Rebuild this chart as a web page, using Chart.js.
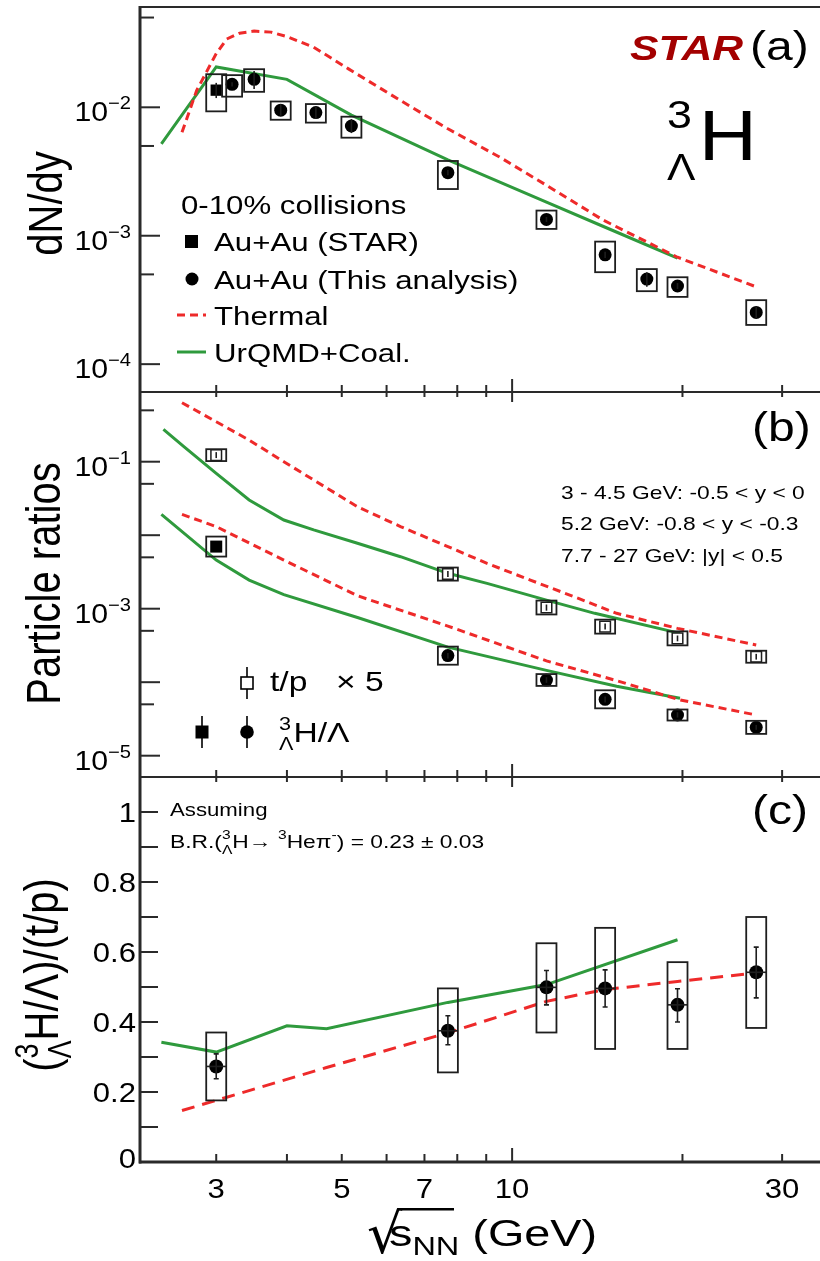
<!DOCTYPE html>
<html>
<head>
<meta charset="utf-8">
<script src="https://cdn.jsdelivr.net/npm/chart.js@4.4.1/dist/chart.umd.min.js"></script>
<style>
html,body{margin:0;padding:0;background:#fff;}
#wrap{width:820px;height:1261px;position:relative;}
</style>
</head>
<body>
<div id="wrap"><canvas id="c" width="820" height="1261"></canvas></div>
<script>
// ================= DATA =================
// x axis (sqrt(s_NN), GeV)
const xTickVals   = [3, 4, 5, 6, 7, 8, 9, 10, 20, 30];
const xTickLabels = ['3', '', '5', '', '7', '', '', '10', '', '30'];

// ---- panel (a): dN/dy ----
const aTickVals = [1e-4, 1e-3, 1e-2];
const aTickExp  = ['\u22124', '\u22123', '\u22122'];
const aMinorVals = [5e-4, 5e-3, 5e-2];

const aStarE      = [3.0];
const aStarVal    = [0.0136];
const aStarStatLo = [0.0118];
const aStarStatHi = [0.0155];
const aStarSysLo  = [0.0093];
const aStarSysHi  = [0.0181];

const aE      = [3.2, 3.5, 3.9, 4.5, 5.2, 7.7, 11.5, 14.6, 17.3, 19.6, 27];
const aVal    = [0.0151, 0.0165, 0.0095, 0.0091, 0.00715, 0.0031, 0.00134, 0.00071, 0.00046, 0.000406, 0.000253];
const aStatLo = [0.0145, 0.0139, 0.0086, 0.0081, 0.0063, 0.00296, 0.00128, 0.00067, 0.00040, 0.000385, 0.000228];
const aStatHi = [0.0157, 0.0192, 0.0106, 0.0102, 0.0081, 0.00325, 0.00140, 0.00075, 0.00052, 0.000428, 0.000280];
const aSysLo  = [0.0121, 0.0132, 0.0080, 0.0076, 0.0058, 0.00231, 0.00113, 0.00052, 0.00037, 0.000334, 0.000202];
const aSysHi  = [0.0178, 0.0198, 0.0111, 0.0106, 0.00845, 0.00382, 0.00157, 0.00090, 0.00055, 0.000475, 0.000315];

const aThermE = [2.61, 2.77, 3.0, 3.13, 3.3, 3.5, 3.75, 4.0, 4.46, 5.13, 6.35, 7.7, 9.5, 11.5, 14.5, 19.6, 27];
const aThermV = [0.0064, 0.0135, 0.0262, 0.0340, 0.0378, 0.0392, 0.0385, 0.0355, 0.0294, 0.0200, 0.0113, 0.0068, 0.0041, 0.00247, 0.00132, 0.00068, 0.00040];
const aUrqE   = [2.4, 3.0, 4.0, 5.2, 7.7, 11.5, 14.5, 19.6];
const aUrqV   = [0.0052, 0.0206, 0.0165, 0.0087, 0.0039, 0.00183, 0.00118, 0.00067];

// ---- panel (b): particle ratios ----
const bTickVals = [1e-5, 1e-3, 1e-1];
const bTickExp  = ['\u22125', '\u22123', '\u22121'];
const bMajorVals = [1e-5, 1e-4, 1e-3, 1e-2, 1e-1];
const bMinorVals = [5e-5, 5e-4, 5e-3, 5e-2, 5e-1];

const bE        = [3.0, 7.7, 11.5, 14.6, 19.6, 27];
const bTP       = [0.123, 0.00296, 0.00104, 0.00057, 0.000395, 0.000222];   // t/p x 5
const bTPStatLo = [0.112, 0.00270, 0.00094, 0.00052, 0.000360, 0.000203];
const bTPStatHi = [0.135, 0.00325, 0.00114, 0.00063, 0.000432, 0.000243];
const bTPSysLo  = [0.102, 0.00241, 0.000835, 0.000458, 0.000317, 0.000184];
const bTPSysHi  = [0.148, 0.00363, 0.00129, 0.00071, 0.000492, 0.000268];

const bHLStarE     = [3.0];
const bHLStar      = [0.0070];
const bHLStarSysLo = [0.00512];
const bHLStarSysHi = [0.00958];
const bHLE      = [7.7, 11.5, 14.6, 19.6, 27];
const bHL       = [2.3e-4, 1.07e-4, 5.85e-5, 3.58e-5, 2.43e-5];
const bHLStatLo = [2.1e-4, 0.98e-4, 5.3e-5, 3.3e-5, 2.25e-5];
const bHLStatHi = [2.5e-4, 1.17e-4, 6.4e-5, 3.9e-5, 2.62e-5];
const bHLSysLo  = [1.73e-4, 8.9e-5, 4.41e-5, 3.01e-5, 1.98e-5];
const bHLSysHi  = [3.05e-4, 1.29e-4, 7.76e-5, 4.25e-5, 2.98e-5];

const bThermTPE = [2.61, 3.0, 3.43, 3.95, 4.46, 5.33, 6.35, 7.7, 9.03, 10.77, 12.85, 15.3, 19.6, 27];
const bThermTPV = [0.635, 0.35, 0.197, 0.100, 0.0564, 0.0244, 0.0131, 0.0070, 0.00414, 0.00245, 0.00146, 0.000865, 0.00054, 0.00032];
const bUrqTPE   = [2.42, 2.63, 3.0, 3.43, 3.95, 4.46, 5.33, 6.35, 7.7, 9.03, 11.5, 14.0, 19.8];
const bUrqTPV   = [0.276, 0.160, 0.0695, 0.0301, 0.0161, 0.0118, 0.00776, 0.0051, 0.00303, 0.00221, 0.00131, 0.000865, 0.000462];
const bThermHLE = [2.61, 3.0, 3.95, 5.33, 7.7, 11.5, 15.3, 19.8, 27];
const bThermHLV = [0.0192, 0.0131, 0.00459, 0.00150, 0.00058, 0.000195, 0.000105, 5.73e-5, 3.58e-5];
const bUrqHLE   = [2.4, 3.0, 3.43, 3.95, 5.33, 7.7, 11.5, 15.3, 19.8];
const bUrqHLV   = [0.0192, 0.00459, 0.00245, 0.00155, 0.00076, 0.00030, 0.000145, 8.8e-5, 6.04e-5];

// ---- panel (c): (3LH/L)/(t/p) ----
const cTickVals   = [0, 0.2, 0.4, 0.6, 0.8, 1];
const cTickLabels = ['0', '0.2', '0.4', '0.6', '0.8', '1'];
const cMinorVals  = [0.1, 0.3, 0.5, 0.7, 0.9];

const cE      = [3.0, 7.7, 11.5, 14.6, 19.6, 27];
const cVal    = [0.273, 0.375, 0.499, 0.496, 0.449, 0.542];
const cStatLo = [0.238, 0.335, 0.449, 0.443, 0.400, 0.469];
const cStatHi = [0.309, 0.418, 0.547, 0.549, 0.495, 0.614];
const cSysLo  = [0.176, 0.256, 0.370, 0.323, 0.323, 0.383];
const cSysHi  = [0.370, 0.496, 0.625, 0.669, 0.571, 0.700];
const cThermE = [2.61, 3.1, 4.7, 7.7, 11.5, 14.5, 19.6, 27];
const cThermV = [0.147, 0.183, 0.270, 0.369, 0.459, 0.492, 0.516, 0.540];
const cUrqE   = [2.4, 3.0, 4.0, 4.7, 7.7, 11.5, 19.6];
const cUrqV   = [0.342, 0.314, 0.389, 0.381, 0.456, 0.507, 0.635];

// ================= STYLE =================
const GREEN = '#2f9a3d';
const RED   = '#ee2a2a';
const INK   = '#000000';
const AXIS  = '#2a2a2a';
const STAR_RED = '#a30000';
const FONT  = '"Liberation Sans", Arial, Helvetica, sans-serif';
const SX = 1.2;          // horizontal stretch of the text
const BOX_HW = 10;       // half-width of systematic boxes, px

function pts(xs, ys) { return xs.map((x, i) => ({x: x, y: ys[i]})); }

function fontStr(r) {
  return [r.style || '', r.weight || '', r.size + 'px', r.family || FONT].filter(Boolean).join(' ');
}
// draw a sequence of text runs (for super/subscripts)
function drawRuns(c, runs, x, y, opts) {
  opts = opts || {};
  const align = opts.align || 'left', rot = opts.rot || 0;
  const sx = opts.sx || SX, color = opts.color || INK;
  c.save();
  c.translate(x, y); c.scale(sx, 1); if (rot) c.rotate(rot);
  c.textBaseline = 'alphabetic'; c.textAlign = 'left';
  let pos = 0, prevStart = 0, prevW = 0;
  const lay = [];
  for (const r of runs) {
    c.font = fontStr(r);
    const w = c.measureText(r.t).width;
    let start;
    if (r.over) { start = prevStart; pos = Math.max(prevStart + prevW, start + w); }
    else { start = pos; pos = start + w; }
    lay.push({r: r, start: start, w: w});
    prevStart = start; prevW = w;
  }
  const total = pos;
  const off = align === 'left' ? 0 : (align === 'right' ? -total : -total / 2);
  for (const L of lay) {
    c.font = fontStr(L.r);
    c.fillStyle = L.r.color || color;
    c.fillText(L.r.t, off + L.start + (L.r.dx || 0), L.r.dy || 0);
  }
  c.restore();
  return total * sx;
}
function txt(c, s, x, y, size, opts) {
  opts = opts || {};
  return drawRuns(c, [{t: s, size: size, weight: opts.weight, style: opts.style, color: opts.color}], x, y, opts);
}

// ================= PLUGIN: frame, ticks, error bars, boxes, texts =================
const decor = {
  id: 'decor',
  afterDatasetsDraw(chart) {
    const c = chart.ctx, X = chart.scales.x;
    const ya = chart.scales.ya, yb = chart.scales.yb, yc = chart.scales.yc;
    c.save();
    c.strokeStyle = '#1e1e1e';
    function box(s, xv, lo, hi) {
      const px = X.getPixelForValue(xv);
      const y1 = s.getPixelForValue(hi), y2 = s.getPixelForValue(lo);
      c.lineWidth = 1.8;
      c.strokeRect(px - BOX_HW, y1, 2 * BOX_HW, y2 - y1);
    }
    function err(s, xv, lo, hi, cap) {
      const px = X.getPixelForValue(xv);
      const y1 = s.getPixelForValue(hi), y2 = s.getPixelForValue(lo);
      c.lineWidth = 1.6;
      c.beginPath(); c.moveTo(px, y1); c.lineTo(px, y2);
      if (cap) { c.moveTo(px - cap, y1); c.lineTo(px + cap, y1); c.moveTo(px - cap, y2); c.lineTo(px + cap, y2); }
      c.stroke();
    }
    // panel a
    aStarE.forEach((e, i) => { box(ya, e, aStarSysLo[i], aStarSysHi[i]); err(ya, e, aStarStatLo[i], aStarStatHi[i]); });
    aE.forEach((e, i) => { box(ya, e, aSysLo[i], aSysHi[i]); err(ya, e, aStatLo[i], aStatHi[i]); });
    // panel b
    bE.forEach((e, i) => { box(yb, e, bTPSysLo[i], bTPSysHi[i]); err(yb, e, bTPStatLo[i], bTPStatHi[i]); });
    bHLStarE.forEach((e, i) => { box(yb, e, bHLStarSysLo[i], bHLStarSysHi[i]); });
    bHLE.forEach((e, i) => { box(yb, e, bHLSysLo[i], bHLSysHi[i]); err(yb, e, bHLStatLo[i], bHLStatHi[i]); });
    // panel c
    cE.forEach((e, i) => {
      box(yc, e, cSysLo[i], cSysHi[i]);
      err(yc, e, cStatLo[i], cStatHi[i], 2.5);
      const px = X.getPixelForValue(e), py = yc.getPixelForValue(cVal[i]);
      c.lineWidth = 1.6; c.beginPath(); c.moveTo(px - BOX_HW, py); c.lineTo(px + BOX_HW, py); c.stroke();
    });
    c.restore();
  },
  afterDraw(chart) {
    const c = chart.ctx, X = chart.scales.x, A = chart.chartArea;
    const ya = chart.scales.ya, yb = chart.scales.yb, yc = chart.scales.yc;
    const L = A.left, R = A.right;
    c.save();
    c.strokeStyle = AXIS; c.fillStyle = INK;
    // ---- frame lines ----
    c.lineWidth = 2; c.beginPath(); c.moveTo(L, ya.top); c.lineTo(R, ya.top); c.stroke();
    c.lineWidth = 2; c.beginPath(); c.moveTo(L, ya.bottom); c.lineTo(R, ya.bottom); c.stroke();
    c.beginPath(); c.moveTo(L, yb.bottom); c.lineTo(R, yb.bottom); c.stroke();
    c.lineWidth = 3; c.beginPath(); c.moveTo(L - 1, yc.bottom); c.lineTo(R, yc.bottom); c.stroke();
    c.beginPath(); c.moveTo(L, ya.top - 1); c.lineTo(L, yc.bottom + 1.5); c.stroke();

    // ---- y ticks (inward) ----
    c.lineWidth = 2;
    function yt(s, v, len) { const py = s.getPixelForValue(v); c.beginPath(); c.moveTo(L, py); c.lineTo(L + len, py); c.stroke(); }
    aTickVals.forEach(v => yt(ya, v, 20)); aMinorVals.forEach(v => yt(ya, v, 14));
    bMajorVals.forEach(v => yt(yb, v, 20)); bMinorVals.forEach(v => yt(yb, v, 14));
    cTickVals.forEach(v => { if (v > 0) yt(yc, v, 18); }); cMinorVals.forEach(v => yt(yc, v, 18));

    // ---- x ticks at bottom of each panel (up) and top of b, c (down) ----
    function xt(yBase, dir, v, len) { const px = X.getPixelForValue(v); c.beginPath(); c.moveTo(px, yBase); c.lineTo(px, yBase + dir * len); c.stroke(); }
    xTickVals.forEach(v => {
      const big = (v === 10);
      xt(ya.bottom, -1, v, big ? 13 : 7);
      xt(yb.top, 1, v, big ? 10 : 5);
      xt(yb.bottom, -1, v, big ? 13 : 7);
      xt(yc.top, 1, v, big ? 10 : 5);
      xt(yc.bottom, -1, v, big ? 14 : 8);
    });

    // ---- y tick labels ----
    function logLab(s, v, ex) {
      const py = s.getPixelForValue(v);
      drawRuns(c, [{t: '10', size: 27}, {t: ex, size: 18, dy: -12}], 131, py + 14, {align: 'right', sx: 1.12});
    }
    aTickVals.forEach((v, i) => logLab(ya, v, aTickExp[i]));
    bTickVals.forEach((v, i) => logLab(yb, v, bTickExp[i]));
    cTickVals.forEach((v, i) => {
      const py = yc.getPixelForValue(v);
      txt(c, cTickLabels[i], 136, py + (v === 0 ? 6 : 10), 27, {align: 'right', sx: 1.15});
    });
    // ---- x tick labels ----
    xTickVals.forEach((v, i) => {
      if (!xTickLabels[i]) return;
      txt(c, xTickLabels[i], X.getPixelForValue(v), 1198, 27, {align: 'center', sx: 1.15});
    });

    // ---- axis titles ----
    const ROT = -Math.PI / 2;
    txt(c, 'dN/dy', 62, (ya.top + ya.bottom) / 2 + 4, 40, {align: 'center', rot: ROT});
    txt(c, 'Particle ratios', 60, (yb.top + yb.bottom) / 2 - 1, 40, {align: 'center', rot: ROT});
    drawRuns(c, [{t: '(', size: 40}, {t: '3', size: 27, dy: -17}, {t: '\u039B', size: 27, dy: 11, over: true},
                 {t: 'H/\u039B)/(t/p)', size: 40}], 58, 975, {align: 'center', rot: ROT});
    // x title with radical
    (function () {
      const top = 1208, bottom = 1255, left = 368;
      c.save();
      c.font = '100px "DejaVu Sans"';
      const m = c.measureText('\u221A');
      const h = m.actualBoundingBoxAscent + m.actualBoundingBoxDescent;
      const k = (bottom - top) / h;
      const fs = 100 * k;
      c.font = fs + 'px "DejaVu Sans"';
      const m2 = c.measureText('\u221A');
      const bx = left + m2.actualBoundingBoxLeft, by = top + m2.actualBoundingBoxAscent;
      c.fillStyle = INK; c.textAlign = 'left'; c.textBaseline = 'alphabetic';
      c.fillText('\u221A', bx, by);
      const rx = bx + m2.actualBoundingBoxRight;
      c.strokeStyle = INK; c.lineWidth = 2.6;
      c.beginPath(); c.moveTo(rx - 2, top + 1.3); c.lineTo(454, top + 1.3); c.stroke();
      c.restore();
      drawRuns(c, [{t: 's', size: 36}, {t: 'NN', size: 25, dy: 9}, {t: ' (GeV)', size: 36}], 389, 1246, {sx: 1.3});
    })();

    // ---- panel (a) texts ----
    txt(c, 'STAR', 630, 60, 35, {weight: 'bold', style: 'italic', color: STAR_RED, sx: 1.22});
    txt(c, '(a)', 750, 60, 40);
    drawRuns(c, [{t: '3', size: 39, dy: -32}, {t: '\u039B', size: 37, dy: 20, over: true}, {t: 'H', size: 70, dx: 3}], 667, 160, {sx: 1.15});
    // legend (a)
    txt(c, '0-10% collisions', 181, 214, 26);
    txt(c, 'Au+Au (STAR)', 214, 251, 26);
    txt(c, 'Au+Au (This analysis)', 214, 289, 26);
    txt(c, 'Thermal', 214, 325, 26);
    txt(c, 'UrQMD+Coal.', 214, 362, 26);
    c.fillStyle = INK;
    c.fillRect(185, 235, 13, 13);
    c.beginPath(); c.arc(192, 279, 6.5, 0, Math.PI * 2); c.fill();
    c.lineWidth = 3;
    c.strokeStyle = RED; c.setLineDash([8, 5]);
    c.beginPath(); c.moveTo(177, 315); c.lineTo(206, 315); c.stroke();
    c.setLineDash([]);
    c.strokeStyle = GREEN;
    c.beginPath(); c.moveTo(177, 352); c.lineTo(206, 352); c.stroke();

    // ---- panel (b) texts ----
    txt(c, '(b)', 752, 441, 40);
    txt(c, '3 - 4.5 GeV: -0.5 < y < 0', 561, 499, 19);
    txt(c, '5.2 GeV: -0.8 < y < -0.3', 561, 530, 19);
    txt(c, '7.7 - 27 GeV: |y| < 0.5', 561, 562, 19);
    // legend (b)
    c.strokeStyle = INK; c.lineWidth = 1.6;
    c.beginPath(); c.moveTo(247, 667); c.lineTo(247, 699); c.stroke();
    c.fillStyle = '#fff'; c.fillRect(241, 677, 12, 12);
    c.strokeRect(241, 677, 12, 12);
    c.beginPath(); c.moveTo(202, 716); c.lineTo(202, 748); c.moveTo(247, 716); c.lineTo(247, 748); c.stroke();
    c.fillStyle = INK;
    c.fillRect(195.5, 725.5, 13, 13);
    c.beginPath(); c.arc(247, 732, 6.8, 0, Math.PI * 2); c.fill();
    txt(c, 't/p', 270, 691, 28);
    txt(c, '\u00D7 5', 336, 691, 28);
    drawRuns(c, [{t: '3', size: 18, dy: -12}, {t: '\u039B', size: 18, dy: 8, over: true}, {t: 'H/\u039B', size: 28}], 279, 742);

    // ---- panel (c) texts ----
    txt(c, '(c)', 752, 824, 40);
    txt(c, 'Assuming', 170, 816, 18.5);
    drawRuns(c, [{t: 'B.R.(', size: 19}, {t: '3', size: 13, dy: -9}, {t: '\u039B', size: 13, dy: 6, over: true},
                 {t: 'H\u2192 ', size: 19}, {t: '3', size: 13, dy: -9}, {t: 'He\u03C0', size: 19}, {t: '-', size: 13, dy: -9},
                 {t: ') = 0.23 \u00B1 0.03', size: 19}], 170, 848);
    c.restore();
  }
};

// ================= CHART =================
const ctx = document.getElementById('c').getContext('2d');
const dotStyle = {pointStyle: 'circle', pointRadius: 6.5, pointHoverRadius: 6.5, backgroundColor: INK, borderColor: INK, borderWidth: 0, showLine: false};
const lineStyle = (col, dash) => ({showLine: true, borderColor: col, borderWidth: 3, borderDash: dash || [], pointRadius: 0, pointHoverRadius: 0, fill: false, tension: 0});
const hiddenAxis = {ticks: {display: false}, grid: {display: false, drawTicks: false, tickLength: 0}, border: {display: false}, title: {display: false}};

new Chart(ctx, {
  type: 'scatter',
  data: {
    datasets: [
      Object.assign({label: 'Au+Au (STAR)', yAxisID: 'ya', data: pts(aStarE, aStarVal)}, dotStyle, {pointStyle: 'rect', pointRadius: 8}),
      Object.assign({label: 'Au+Au (This analysis)', yAxisID: 'ya', data: pts(aE, aVal)}, dotStyle),
      Object.assign({label: 't/p x 5', yAxisID: 'yb', data: pts(bE, bTP)}, dotStyle, {pointStyle: 'rect', pointRadius: 7.5, backgroundColor: '#ffffff', borderColor: '#1e1e1e', borderWidth: 1.5}),
      Object.assign({label: 'H/L (STAR)', yAxisID: 'yb', data: pts(bHLStarE, bHLStar)}, dotStyle, {pointStyle: 'rect', pointRadius: 8.5}),
      Object.assign({label: 'H/L', yAxisID: 'yb', data: pts(bHLE, bHL)}, dotStyle),
      Object.assign({label: 'ratio', yAxisID: 'yc', data: pts(cE, cVal)}, dotStyle, {pointRadius: 7}),
      Object.assign({label: 'Thermal a', yAxisID: 'ya', data: pts(aThermE, aThermV)}, lineStyle(RED, [8, 5])),
      Object.assign({label: 'UrQMD a', yAxisID: 'ya', data: pts(aUrqE, aUrqV)}, lineStyle(GREEN)),
      Object.assign({label: 'Thermal t/p', yAxisID: 'yb', data: pts(bThermTPE, bThermTPV)}, lineStyle(RED, [8, 5])),
      Object.assign({label: 'UrQMD t/p', yAxisID: 'yb', data: pts(bUrqTPE, bUrqTPV)}, lineStyle(GREEN)),
      Object.assign({label: 'Thermal H/L', yAxisID: 'yb', data: pts(bThermHLE, bThermHLV)}, lineStyle(RED, [8, 5])),
      Object.assign({label: 'UrQMD H/L', yAxisID: 'yb', data: pts(bUrqHLE, bUrqHLV)}, lineStyle(GREEN)),
      Object.assign({label: 'Thermal c', yAxisID: 'yc', data: pts(cThermE, cThermV)}, lineStyle(RED, [13, 8])),
      Object.assign({label: 'UrQMD c', yAxisID: 'yc', data: pts(cUrqE, cUrqV)}, lineStyle(GREEN))
    ]
  },
  options: {
    responsive: false,
    animation: false,
    devicePixelRatio: 1,
    layout: {autoPadding: false, padding: {left: 140, right: 0, top: 7, bottom: 99}},
    plugins: {legend: {display: false}, tooltip: {enabled: false}},
    events: [],
    scales: {
      x: Object.assign({type: 'logarithmic', position: 'bottom', min: 2.2, max: 35}, hiddenAxis),
      ya: Object.assign({type: 'logarithmic', position: 'left', stack: 'panels', stackWeight: 1, weight: 3,
           min: 6.07e-5, max: 0.0604}, hiddenAxis),
      yb: Object.assign({type: 'logarithmic', position: 'left', stack: 'panels', stackWeight: 1, weight: 2,
           min: 5.13e-6, max: 0.888}, hiddenAxis),
      yc: Object.assign({type: 'linear', position: 'left', stack: 'panels', stackWeight: 1, weight: 1,
           min: 0, max: 1.1}, hiddenAxis)
    }
  },
  plugins: [decor]
});
</script>
</body>
</html>
